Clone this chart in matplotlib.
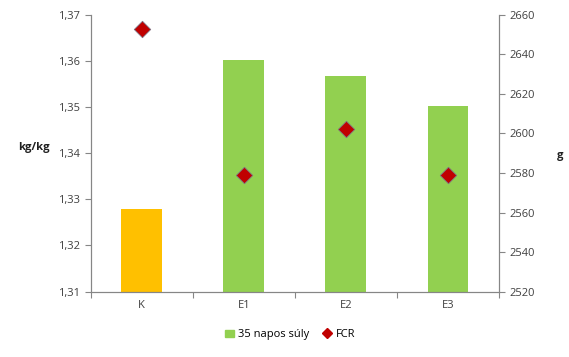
import numpy as np
import matplotlib.pyplot as plt
from matplotlib.patches import Patch
from matplotlib.lines import Line2D

# chart data
categories = ['K', 'E1', 'E2', 'E3']
weight_35d = [2562, 2637, 2629, 2614]      # g, right axis
fcr = [1.3668, 1.3353, 1.3452, 1.3353]     # kg/kg, left axis
bar_colors = ['#FFC000', '#92D050', '#92D050', '#92D050']

plt.rcParams['font.family'] = ['Open Sans', 'DejaVu Sans']

fig = plt.figure(figsize=(5.69, 3.57), dpi=100)
ax = fig.add_axes([0.1594, 0.183, 0.7176, 0.776])
ax2 = ax.twinx()

x = np.arange(len(categories))

# bars on the right axis (g)
ax2.bar(x, weight_35d, width=0.4, color=bar_colors, zorder=1)
ax2.set_ylim(2520, 2660)
ax2.set_yticks(np.arange(2520, 2661, 20))

# FCR diamonds on the left axis, drawn above the bars
ax.set_zorder(ax2.get_zorder() + 1)
ax.patch.set_visible(False)
ax.scatter(x, fcr, marker='D', s=70, color='#C00000', edgecolor='#7F6F7F',
           linewidth=0.6, zorder=3)
ax.set_ylim(1.31, 1.37)
ax.set_yticks(np.arange(1.31, 1.3701, 0.01))
ax.set_yticklabels([f'{v:.2f}'.replace('.', ',') for v in np.arange(1.31, 1.3701, 0.01)])
ax.set_xlim(-0.5, len(categories) - 0.5)

# category ticks between groups
ax.set_xticks(np.arange(-0.5, len(categories), 1.0))
ax.set_xticklabels([])
ax.set_xticks(x, minor=True)
ax.set_xticklabels(categories, minor=True)
ax.tick_params(axis='x', which='minor', length=0, pad=6, labelsize=8, labelcolor='#404040')
ax.tick_params(axis='x', which='major', length=4, color='#868686')

for a in (ax, ax2):
    for s in a.spines.values():
        s.set_color('#868686')
    a.spines['top'].set_visible(False)
    a.tick_params(axis='y', length=4, color='#868686', labelsize=8, labelcolor='#404040')

ax.set_ylabel('kg/kg', rotation=0, fontsize=8, fontweight='bold', color='#202020')
ax.yaxis.set_label_coords(-0.14, 0.5)
ax2.set_ylabel('g', rotation=0, fontsize=8, fontweight='bold', color='#202020')
ax2.yaxis.set_label_coords(1.15, 0.51)

handles = [Patch(color='#92D050', label='35 napos súly'),
           Line2D([], [], marker='D', color='#C00000', linestyle='none',
                  markersize=5, label='FCR')]
fig.legend(handles=handles, loc='center', bbox_to_anchor=(0.51, 0.062), ncol=2,
           frameon=False, fontsize=8, handlelength=0.8, handletextpad=0.4,
           columnspacing=1.2)

fig.savefig('out.png', dpi=100)
